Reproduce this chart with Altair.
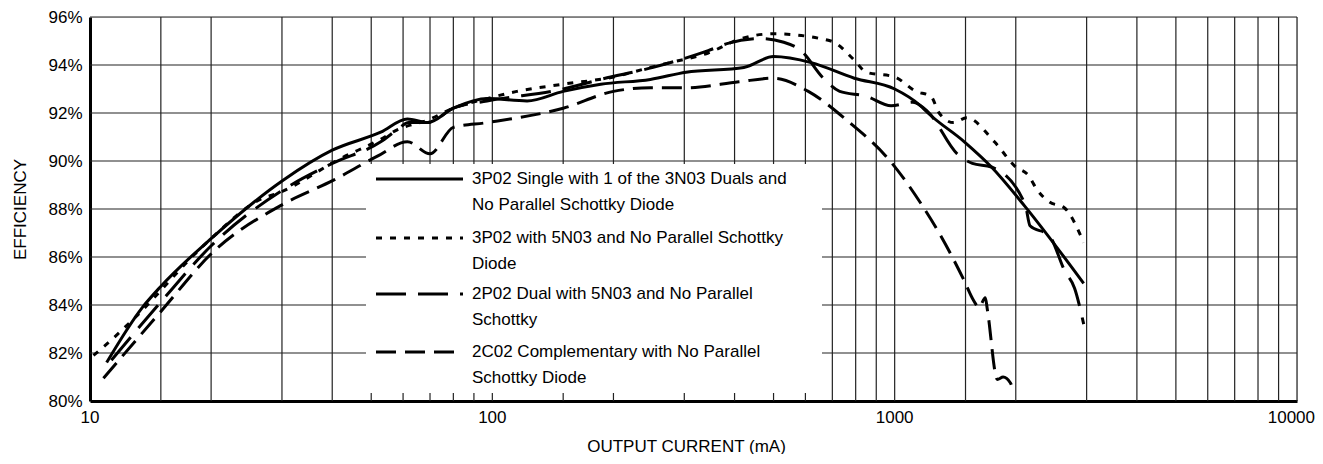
import altair as alt
import pandas as pd

# ---------------- data ----------------
s1_x = [11.0, 13.5, 14.95, 20.1, 30.2, 40, 52.8, 61.5, 69, 80, 97.5, 122, 150, 186, 247, 303, 422, 500, 620, 794, 1000, 1160, 1210, 1490, 1740, 2110, 2950]
s1_y = [81.6, 83.9, 84.75, 86.8, 89.2, 90.45, 91.2, 91.75, 91.6, 92.2, 92.6, 92.5, 92.9, 93.2, 93.4, 93.7, 93.9, 94.35, 94.1, 93.45, 93.0, 92.3, 92.0, 90.8, 89.75, 88.1, 84.9]

s2_x = [10.2, 10.8, 12.8, 19.5, 26.5, 29.7, 41.9, 52.7, 58, 69, 80, 97, 115, 150, 200, 247, 277, 344, 415, 500, 694, 794, 850, 1000, 1130, 1230, 1290, 1400, 1510, 1770, 2000, 2150, 2260, 2420, 2640, 2950]
s2_y = [81.9, 82.25, 83.4, 86.6, 88.4, 88.7, 90.1, 90.9, 91.3, 91.7, 92.2, 92.6, 92.9, 93.2, 93.5, 93.9, 94.1, 94.5, 95.1, 95.3, 95.0, 94.2, 93.7, 93.5, 92.9, 92.7, 92.0, 91.6, 91.8, 90.8, 89.75, 89.4, 88.8, 88.3, 88.05, 86.6]

s3_x = [11.3, 14.95, 20.1, 30.2, 40, 52.8, 58, 62, 69, 80, 97, 150, 186, 251, 344, 385, 465, 530, 585, 665, 730, 850, 980, 1110, 1210, 1430, 1560, 1740, 2110, 2170, 2420, 2650, 2800, 2950]
s3_y = [81.7, 84.1, 86.5, 88.8, 89.9, 90.8, 91.3, 91.6, 91.6, 92.2, 92.5, 93.0, 93.4, 93.9, 94.6, 94.9, 95.1, 94.95, 94.6, 93.45, 92.9, 92.7, 92.3, 92.45, 92.05, 90.3, 89.9, 89.75, 88.2, 87.3, 86.9, 85.4, 84.7, 83.2]

s4_x = [10.8, 14.95, 20.2, 30.2, 40.3, 51.8, 61.5, 70, 80, 97, 150, 200, 247, 303, 410, 500, 610, 760, 980, 1160, 1290, 1490, 1570, 1620, 1680, 1700, 1800, 1860, 1940, 1970]
s4_y = [80.95, 83.7, 86.2, 88.2, 89.2, 90.2, 90.8, 90.3, 91.4, 91.6, 92.2, 92.9, 93.05, 93.05, 93.3, 93.45, 92.9, 91.7, 89.95, 88.25, 87.0, 85.0, 84.2, 83.9, 84.3, 83.8, 80.9, 81.0, 80.75, 80.45]

series_labels = [
    ["3P02 Single with 1 of the 3N03 Duals and", "No Parallel Schottky Diode"],
    ["3P02 with 5N03 and No Parallel Schottky", "Diode"],
    ["2P02 Dual with 5N03 and No Parallel", "Schottky"],
    ["2C02 Complementary with No Parallel", "Schottky Diode"],
]

grid_x = [15, 20, 30, 40, 50, 60, 70, 80, 90, 100, 150, 200, 300, 400, 500, 600, 700, 800, 900,
          1000, 1500, 2000, 3000, 4000, 5000, 6000, 7000, 8000, 9000, 10000]
grid_y = [82, 84, 86, 88, 90, 92, 94, 96]
x_labels = [10, 100, 1000]
x_label_last = [10000]
y_labels = [80, 82, 84, 86, 88, 90, 92, 94, 96]

# ---------------- styling ----------------
FONT = "Liberation Sans"
W, H = 1207, 384
dashes = [None, [6, 8], [30, 12], [20, 9]]

xscale = alt.Scale(type="log", domain=[10, 10000])
yscale = alt.Scale(domain=[80, 96])

xaxis = alt.Axis(
    values=x_labels, labels=False, grid=False, ticks=False, domain=True,
    domainColor="black", domainWidth=3,
    title="OUTPUT CURRENT (mA)", titleFont=FONT, titleFontSize=17,
    titleFontWeight="normal", titleColor="black", titleX=596, titleY=45,
    titleBaseline="middle", titleAlign="center")
yaxis = alt.Axis(
    values=y_labels, labelExpr="datum.value + '%'", grid=False, ticks=False,
    domain=True, domainColor="black", domainWidth=3, labelFont=FONT,
    labelFontSize=17, labelColor="black", labelPadding=8,
    title="EFFICIENCY", titleFont=FONT, titleFontSize=17, titleFontWeight="normal",
    titleColor="black", titleX=-70, titleY=192, titleAngle=270,
    titleBaseline="middle", titleAlign="center")

def X(field):
    return alt.X(field, scale=xscale, axis=xaxis, title="OUTPUT CURRENT (mA)")

def Y(field):
    return alt.Y(field, scale=yscale, axis=yaxis, title="EFFICIENCY")

layers = []

# grid
layers.append(
    alt.Chart(pd.DataFrame({"gx": grid_x})).mark_rule(color="#222", strokeWidth=1.2)
    .encode(x=X("gx:Q"))
)
layers.append(
    alt.Chart(pd.DataFrame({"gy": grid_y})).mark_rule(color="#222", strokeWidth=1.2)
    .encode(y=Y("gy:Q"))
)

# x tick labels (text layers so the last one can stay inside the page)
layers.append(
    alt.Chart(pd.DataFrame({"v": x_labels})).mark_text(
        align="center", baseline="top", font=FONT, fontSize=17, color="black")
    .encode(x=X("v:Q"), y=alt.value(H + 9), text=alt.Text("v:Q", format="d"))
)
layers.append(
    alt.Chart(pd.DataFrame({"v": x_label_last})).mark_text(
        align="right", baseline="top", font=FONT, fontSize=17, color="black", dx=18)
    .encode(x=X("v:Q"), y=alt.value(H + 9), text=alt.Text("v:Q", format="d"))
)

# legend background
one = pd.DataFrame({"k": [0]})
layers.append(
    alt.Chart(one).mark_rect(color="white").encode(
        x=alt.value(276), x2=alt.value(732), y=alt.value(147), y2=alt.value(376))
)

# curves
xs = [s1_x, s2_x, s3_x, s4_x]
ys = [s1_y, s2_y, s3_y, s4_y]
for i in range(4):
    df = pd.DataFrame({"x": xs[i], "y": ys[i]})
    kw = dict(color="black", strokeWidth=3, interpolate="monotone", strokeCap="butt")
    if dashes[i]:
        kw["strokeDash"] = dashes[i]
    layers.append(alt.Chart(df).mark_line(**kw).encode(x=X("x:Q"), y=Y("y:Q")))

# legend entries
sym_y = [162, 221, 277, 335]
for i in range(4):
    kw = dict(color="black", strokeWidth=3, strokeCap="butt")
    if dashes[i]:
        kw["strokeDash"] = dashes[i]
    layers.append(alt.Chart(one).mark_rule(**kw).encode(
        x=alt.value(286), x2=alt.value(373), y=alt.value(sym_y[i])))
    for j, line in enumerate(series_labels[i]):
        layers.append(alt.Chart(one).mark_text(
            align="left", baseline="middle", font=FONT, fontSize=17, color="black"
        ).encode(x=alt.value(382), y=alt.value(sym_y[i] + 26 * j), text=alt.value(line)))

chart = alt.layer(*layers).properties(
    width=W, height=H,
    autosize=alt.AutoSizeParams(type="none"),
    padding={"left": 82, "top": 9, "right": 18, "bottom": 53},
).configure_view(stroke=None).configure(background="white")

chart.save("out.html", embed_options={"renderer": "svg", "actions": False})
